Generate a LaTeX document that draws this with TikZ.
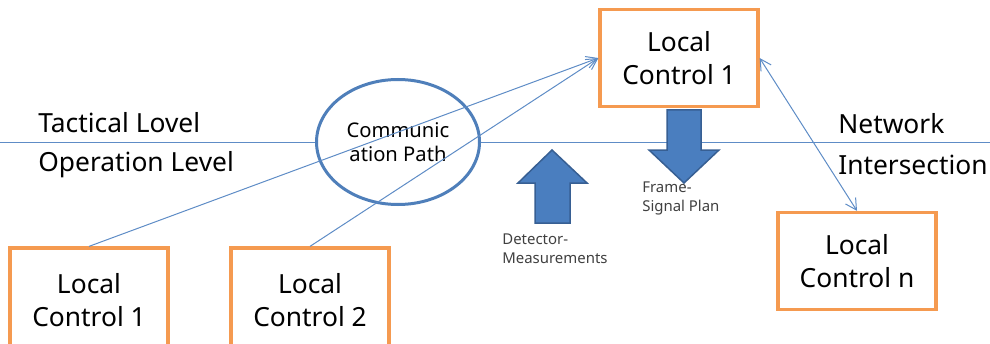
\documentclass[tikz,border=0pt]{standalone}
\usepackage{fontspec}
\setmainfont{Noto Sans}
\usetikzlibrary{shapes.geometric}
\usetikzlibrary{arrows.meta}

\definecolor{boxorange}{HTML}{F59A50}
\definecolor{linkblue}{HTML}{5E8CC6}
\definecolor{ringblue}{HTML}{4F7FBA}
\definecolor{arrowblue}{HTML}{4A7EBF}
\definecolor{arrowedge}{HTML}{375F93}
\definecolor{notegray}{HTML}{404040}

\begin{document}
\begin{tikzpicture}[
    x=0.2mm, y=-0.2mm,
    ctrl/.style={
        draw=boxorange, line width=0.65mm, fill=white,
        minimum width=31.6mm, minimum height=19.4mm,
        align=center, inner sep=0pt,
        font=\fontsize{15}{19}\selectfont
    },
    link/.style={draw=linkblue, line width=0.2mm},
    level/.style={anchor=west, inner sep=0pt, font=\fontsize{15}{18}\selectfont},
    note/.style={anchor=north west, align=left, inner sep=0pt, text=notegray,
        font=\fontsize{8.5}{11.3}\selectfont},
    blockarrow/.style={fill=arrowblue, draw=arrowedge, line width=0.3mm}
    ]

    \useasboundingbox (0,0) rectangle (990,344);
    \clip (0,0) rectangle (990,344);

    % level divider
    \draw [link] (0,142) -- (990,142);
    \node [level] (tactical) at (38,123) {Tactical Lovel};
    \node [level] (operation) at (38,165) {Operation Level};
    \node [level] (network) at (838,124) {Network};
    \node [level] (intersection) at (838,165) {Intersection};

    % communication path
    \node [ellipse, draw=ringblue, line width=0.6mm, fill=white,
        minimum width=32.6mm, minimum height=25mm, inner sep=0pt,
        align=center, font=\fontsize{11.5}{14}\selectfont] (path) at (398,142) {Communic\\ation Path};

    % controllers
    \node [ctrl] (top) at (679,58) {Local\\Control 1};
    \node [ctrl, minimum height=20.8mm] (lc1) at (89,300) {Local\\Control 1};
    \node [ctrl, minimum height=20.8mm] (lc2) at (310,300) {Local\\Control 2};
    \node [ctrl] (lcn) at (857,261) {Local\\Control n};

    % links
    \draw [link, -{Straight Barb[length=2.2mm,width=2.4mm]}] (lc1.north) -- (top.west);
    \draw [link, -{Straight Barb[length=2.2mm,width=2.4mm]}] (lc2.north) -- (top.west);
    \draw [link, {Straight Barb[length=2.2mm,width=2.4mm]}-{Straight Barb[length=2.2mm,width=2.4mm]}] (top.east) -- (lcn.north);

    % data flows
    \filldraw [blockarrow] (535,223) -- (535,183) -- (518,183) -- (552,150) -- (587,183) -- (570,183) -- (570,223) -- cycle;
    \filldraw [blockarrow] (667,110) -- (701,110) -- (701,150) -- (719,150) -- (684,183) -- (649,150) -- (667,150) -- cycle;
    \node [note] (detector) at (502,233) {Detector-\\Measurements};
    \node [note] (frame) at (642,181) {Frame-\\Signal Plan};
\end{tikzpicture}
\end{document}
